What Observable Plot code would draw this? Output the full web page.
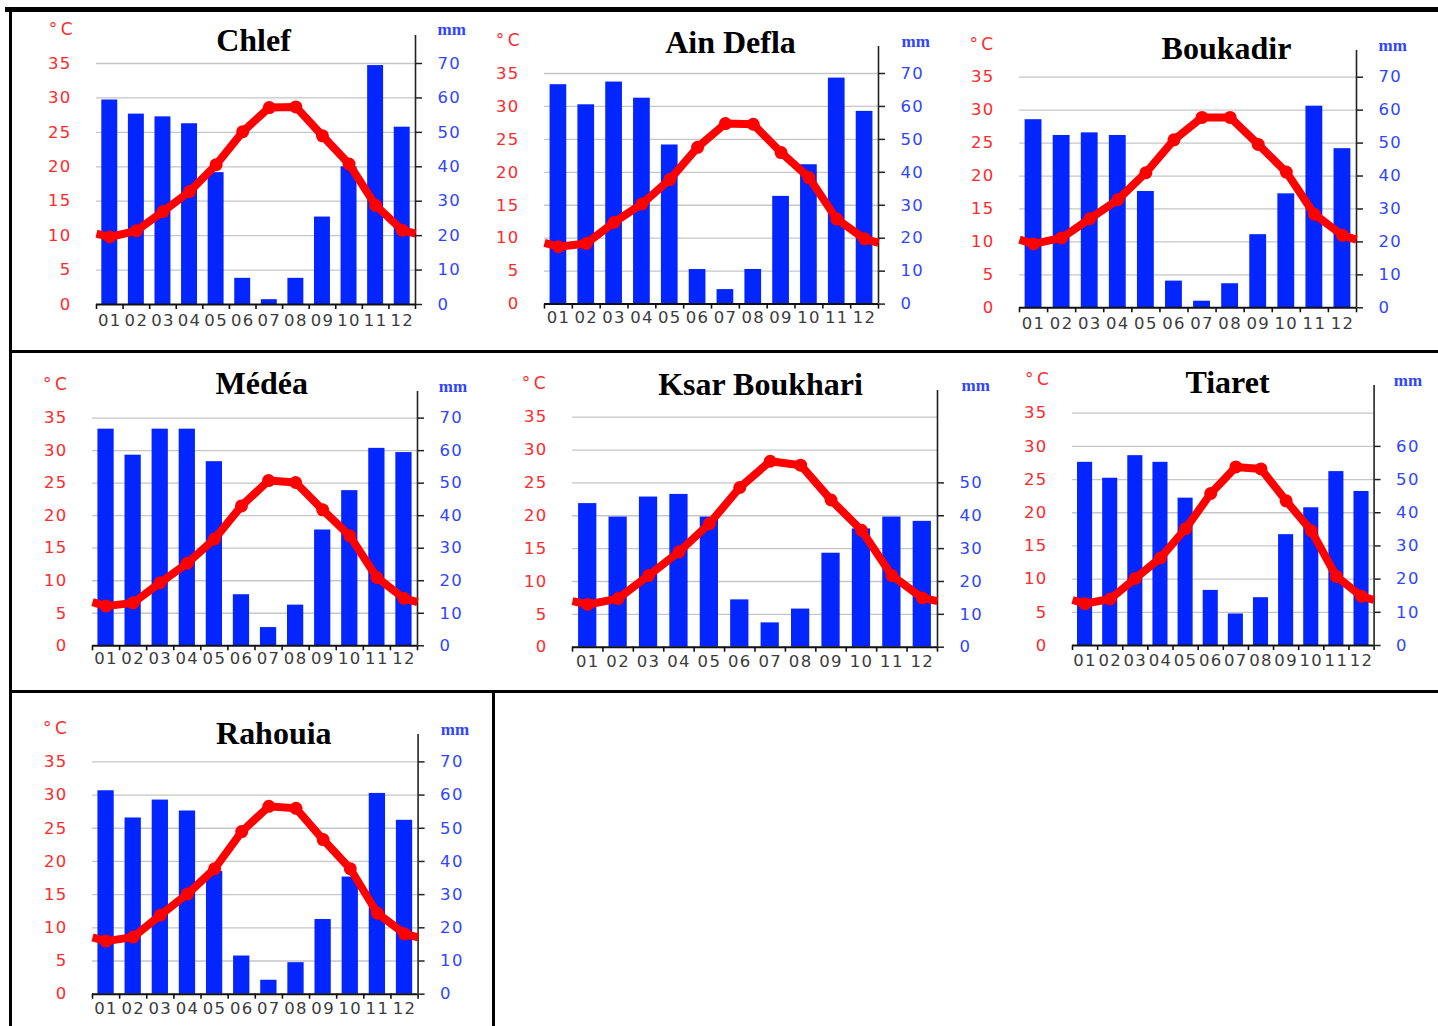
<!DOCTYPE html>
<html>
<head>
<meta charset="utf-8">
<script src="https://cdn.jsdelivr.net/npm/d3@7"></script>
<script src="https://cdn.jsdelivr.net/npm/@observablehq/plot@0.6"></script>
<style>
  html, body { margin: 0; padding: 0; background: #fff; }
  #page { position: relative; width: 1438px; height: 1026px; overflow: hidden; background: #fff; }
  .cell { position: absolute; }
  .cell svg { display: block; max-width: none; }
  .cell svg g[aria-label="x-axis tick label"] text,
  .cell svg g[aria-label="y-axis tick label"] text { letter-spacing: 1.3px; }
  .rule { position: absolute; background: #000; z-index: 5; }
</style>
</head>
<body>
<div id="page"></div>
<script>
// Ombrothermic diagrams: monthly mean temperature (°C, red line) and rainfall (mm, blue bars)
const months = ["01", "02", "03", "04", "05", "06", "07", "08", "09", "10", "11", "12"];
const stations = ["Chlef", "Ain Defla", "Boukadir", "Médéa", "Ksar Boukhari", "Tiaret", "Rahouia"];

const chlefTemp   = [9.8, 10.7, 13.5, 16.4, 20.3, 25.1, 28.6, 28.7, 24.5, 20.4, 14.4, 10.8];
const chlefRain   = [59.4, 55.3, 54.5, 52.5, 38.3, 7.6, 1.4, 7.6, 25.4, 40.0, 69.4, 51.5];

const ainDeflaTemp = [8.7, 9.2, 12.4, 15.2, 18.9, 23.8, 27.4, 27.3, 23.0, 19.2, 12.9, 9.9];
const ainDeflaRain = [66.6, 60.5, 67.4, 62.5, 48.3, 10.5, 4.4, 10.5, 32.7, 42.3, 68.6, 58.5];

const boukadirTemp = [9.7, 10.6, 13.5, 16.4, 20.5, 25.5, 28.9, 28.9, 24.8, 20.6, 14.2, 11.0];
const boukadirRain = [57.1, 52.3, 53.1, 52.3, 35.3, 8.1, 2.0, 7.3, 22.2, 34.6, 61.2, 48.3];

const medeaTemp   = [6.1, 6.6, 9.7, 12.7, 16.4, 21.5, 25.4, 25.1, 20.9, 16.9, 10.5, 7.3];
const medeaRain   = [66.6, 58.6, 66.6, 66.6, 56.6, 15.7, 5.6, 12.5, 35.6, 47.7, 60.7, 59.4];

const ksarTemp    = [6.5, 7.4, 10.9, 14.5, 18.8, 24.3, 28.3, 27.7, 22.4, 17.8, 10.9, 7.5];
const ksarRain    = [43.7, 39.6, 45.7, 46.5, 39.6, 14.4, 7.4, 11.6, 28.6, 36.0, 39.6, 38.3];

const tiaretTemp  = [6.3, 7.0, 10.1, 13.2, 17.6, 22.9, 26.9, 26.6, 21.8, 17.3, 10.4, 7.4];
const tiaretRain  = [55.2, 50.4, 57.2, 55.2, 44.4, 16.6, 9.5, 14.4, 33.4, 41.5, 52.4, 46.4];

const rahouiaTemp = [8.0, 8.6, 11.9, 15.1, 18.9, 24.5, 28.3, 28.0, 23.3, 18.9, 12.2, 9.1];
const rahouiaRain = [61.3, 53.1, 58.5, 55.2, 37.0, 11.5, 4.2, 9.5, 22.5, 35.3, 60.5, 52.4];

// temperature tick labels (left) and highest rainfall tick label (right) per station
const tempTicks = [0, 5, 10, 15, 20, 25, 30, 35];
const rainTopTick = [70, 70, 70, 70, 50, 60, 70];

const tempSeries = [chlefTemp, ainDeflaTemp, boukadirTemp, medeaTemp, ksarTemp, tiaretTemp, rahouiaTemp];
const rainSeries = [chlefRain, ainDeflaRain, boukadirRain, medeaRain, ksarRain, tiaretRain, rahouiaRain];

// page geometry of each diagram: frame edges, 0 °C and 35 °C lines, title and unit labels
const frames = [
  {xL: 96,    xR: 415,    yB: 304,   y35: 63,    yT: 35,    titleX: 253,    titleY: 50,  degX: 72,    degY: 29,    mmX: 437,  mmY: 29.5,  pad: 9.3},
  {xL: 544,   xR: 878,    yB: 303.3, y35: 72.7,  yT: 45.7,  titleX: 730,    titleY: 52,  degX: 519,   degY: 40,    mmX: 901,  mmY: 41,    pad: 6.7},
  {xL: 1019,  xR: 1356,   yB: 307.3, y35: 76.7,  yT: 50,    titleX: 1226,   titleY: 59,  degX: 992.7, degY: 43.8,  mmX: 1378, mmY: 45,    pad: 9.4},
  {xL: 91.7,  xR: 416.7,  yB: 645,   y35: 417.3, yT: 390.7, titleX: 261,    titleY: 393, degX: 66,    degY: 384,   mmX: 438,  mmY: 385.3, pad: 6.7},
  {xL: 572,   xR: 937,    yB: 646.7, y35: 416.7, yT: 390,   titleX: 760,    titleY: 395, degX: 545,   degY: 383.5, mmX: 961,  mmY: 384.7, pad: 8.3},
  {xL: 1071.7,xR: 1373.3, yB: 645,   y35: 412.7, yT: 385,   titleX: 1226.7, titleY: 393, degX: 1048,  degY: 379.5, mmX: 1393, mmY: 380.5, pad: 8.3},
  {xL: 91.7,  xR: 417.3,  yB: 994,   y35: 761.7, yT: 734.3, titleX: 273,    titleY: 744, degX: 66,    degY: 728.3, mmX: 440,  mmY: 729.5, pad: 7.7}
];

const RED = "#ff0000";
const BLUE = "#0325ff";
const page = document.getElementById("page");

function diagram(i) {
  const f = frames[i];
  const mL = 62, mR = 72, mT = 25, mB = 32;
  const width = (f.xR - f.xL) + mL + mR;
  const height = (f.yB - f.yT) + mT + mB;
  const yTop = 35 * (f.yB - f.yT) / (f.yB - f.y35);
  const temps = tempSeries[i];
  const rain = rainSeries[i];
  const rows = months.map((label, k) => ({m: k + 1, label, t: temps[k], p: rain[k]}));
  // the curve is carried to both frame edges at the December–January mean
  const edge = (temps[0] + temps[11]) / 2;
  const curve = [{m: 0.5, t: edge}, ...rows, {m: 12.5, t: edge}];

  const svg = Plot.plot({
    width, height,
    marginLeft: mL, marginRight: mR, marginTop: mT, marginBottom: mB,
    style: {background: "transparent", fontFamily: "DejaVu Sans", fontSize: "16px", overflow: "visible"},
    x: {type: "linear", domain: [0.5, 12.5], axis: null},
    y: {domain: [0, yTop], axis: null},
    marks: [
      Plot.gridY({ticks: tempTicks.filter(d => d > 0), stroke: "#c6c6c6", strokeOpacity: 1, strokeWidth: 1.3}),
      Plot.rectY(rows, {x1: d => d.m - 0.3, x2: d => d.m + 0.3, y: d => d.p / 2, fill: BLUE}),
      Plot.ruleY([0], {stroke: "#111", strokeWidth: 2}),
      Plot.ruleX([12.5], {stroke: "#222", strokeWidth: 1.6}),
      Plot.axisX({ticks: d3.range(0.5, 13, 1), tickSize: 5, tickFormat: () => "", label: null,
                  stroke: "#111", strokeWidth: 1.6}),
      Plot.axisX({ticks: rows.map(d => d.m), tickSize: 0, tickPadding: f.pad, label: null,
                  tickFormat: k => months[k - 1], fill: "#3c3c3c", fontSize: 16.5}),
      Plot.axisY({anchor: "left", ticks: tempTicks, tickSize: 0, tickPadding: 25, label: null,
                  fill: "#ff2a2a", fontSize: 16.5}),
      Plot.axisY({anchor: "right", ticks: d3.range(0, rainTopTick[i] / 2 + 1, 5), tickSize: 6, tickPadding: 16,
                  tickFormat: d => d * 2, label: null, stroke: "#222", strokeWidth: 1.5, fill: "#2f46ff", fontSize: 16.5}),
      Plot.line(curve, {x: "m", y: "t", stroke: RED, strokeWidth: 8, strokeLinecap: "butt"}),
      Plot.dot(rows, {x: "m", y: "t", r: 6.5, fill: RED}),
      Plot.text([stations[i]], {frameAnchor: "top-left", dx: f.titleX - f.xL, dy: f.titleY - f.yT,
                  lineAnchor: "bottom", textAnchor: "middle", fontFamily: "Liberation Serif",
                  fontWeight: "bold", fontSize: 32, fill: "#000"}),
      Plot.text(["°\u2009C"], {frameAnchor: "top-left", dx: f.degX - f.xL, dy: f.degY - f.yT,
                  lineAnchor: "middle", textAnchor: "end", fontSize: 17, fill: "#ff2a2a"}),
      Plot.text(["mm"], {frameAnchor: "top-left", dx: f.mmX - f.xL, dy: f.mmY - f.yT,
                  lineAnchor: "middle", textAnchor: "start", fontFamily: "Liberation Serif",
                  fontWeight: "bold", fontSize: 17, fill: "#2f46ff"})
    ]
  });

  const cell = document.createElement("div");
  cell.className = "cell";
  cell.style.left = (f.xL - mL) + "px";
  cell.style.top = (f.yT - mT) + "px";
  cell.appendChild(svg);
  page.appendChild(cell);
}

stations.forEach((_, i) => diagram(i));

// table rules around the diagrams
const rules = [
  {x: 5,   y: 7,   w: 1433, h: 5},
  {x: 9,   y: 11,  w: 2.5,  h: 1015},
  {x: 9,   y: 350, w: 1429, h: 2.5},
  {x: 9,   y: 690, w: 1429, h: 2.5},
  {x: 492, y: 691, w: 2.5,  h: 335}
];
for (const r of rules) {
  const d = document.createElement("div");
  d.className = "rule";
  d.style.left = r.x + "px";
  d.style.top = r.y + "px";
  d.style.width = r.w + "px";
  d.style.height = r.h + "px";
  page.appendChild(d);
}
</script>
</body>
</html>
